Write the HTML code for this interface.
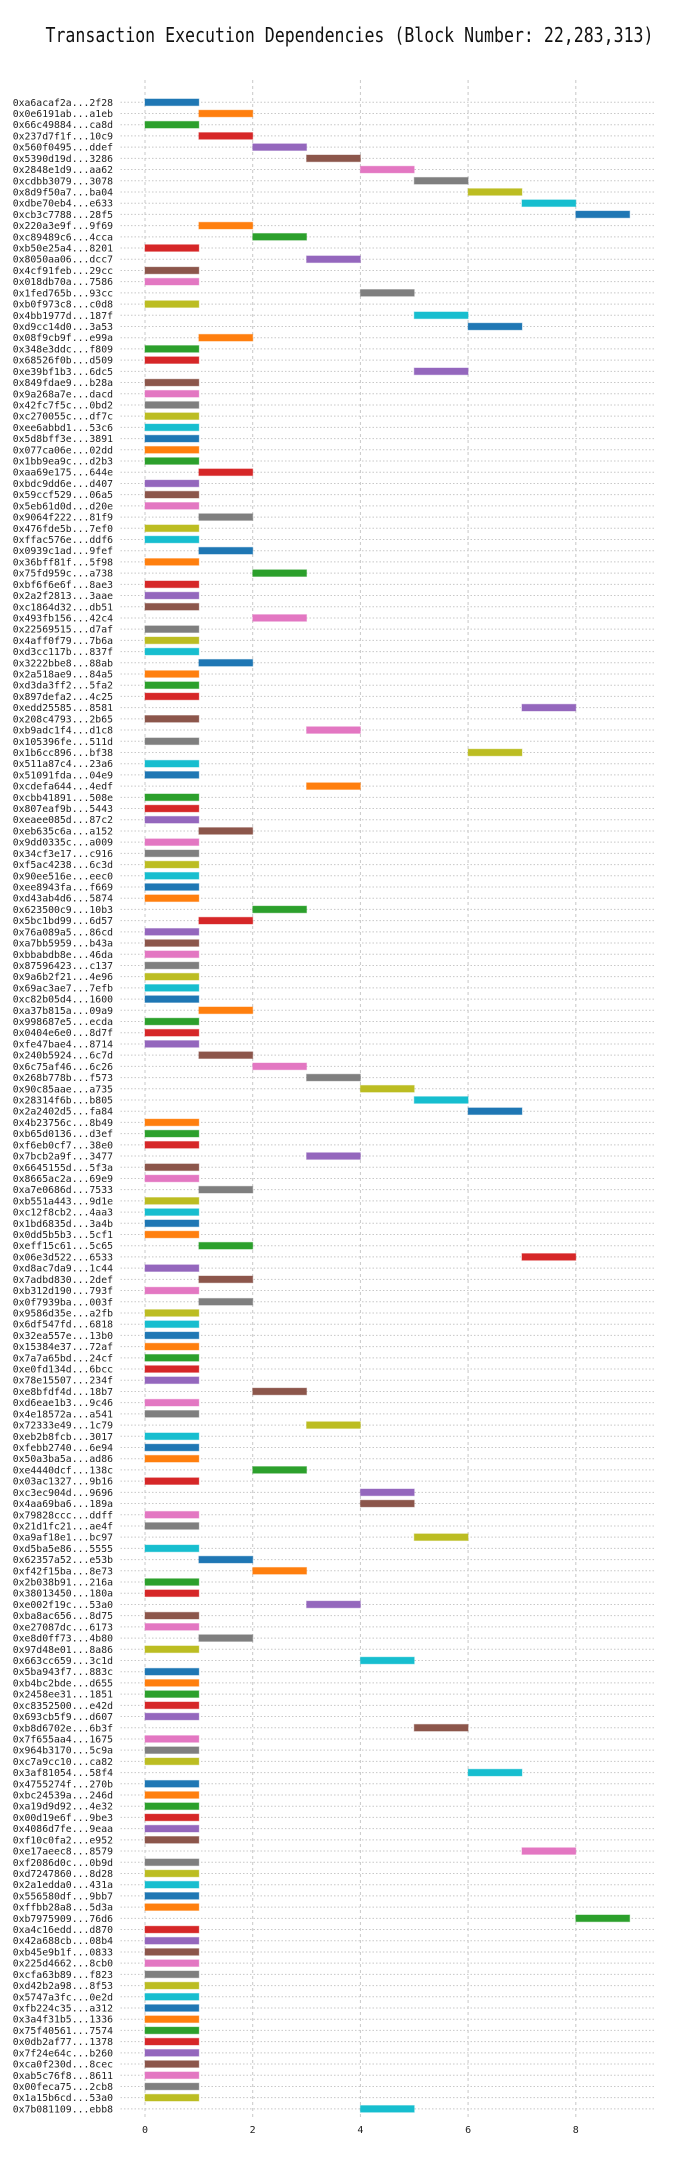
<!DOCTYPE html>
<html><head><meta charset="utf-8"><style>
html,body{margin:0;padding:0;background:#fff;}
svg{display:block;}
</style></head><body>
<svg id="chart" width="700" height="2160" xmlns="http://www.w3.org/2000/svg">
<rect width="700" height="2160" fill="#fff"/>
<text x="349.5" y="42" text-anchor="middle" font-family="'DejaVu Sans Mono','Liberation Mono',monospace" font-size="20" textLength="608" lengthAdjust="spacingAndGlyphs" fill="#111">Transaction Execution Dependencies (Block Number: 22,283,313)</text>
<g id="grid"></g>
<g id="bars"></g>
<g id="ylabels"></g>
<g id="xticks"></g>
</svg>
<script>
const txLabels = ["0xa6acaf2a...2f28","0x0e6191ab...a1eb","0x66c49884...ca8d","0x237d7f1f...10c9","0x560f0495...ddef","0x5390d19d...3286","0x2848e1d9...aa62","0xcdbb3079...3078","0x8d9f50a7...ba04","0xdbe70eb4...e633","0xcb3c7788...28f5","0x220a3e9f...9f69","0xc89489c6...4cca","0xb50e25a4...8201","0x8050aa06...dcc7","0x4cf91feb...29cc","0x018db70a...7586","0x1fed765b...93cc",
"0xb0f973c8...c0d8","0x4bb1977d...187f","0xd9cc14d0...3a53","0x08f9cb9f...e99a","0x348e3ddc...f809","0x68526f0b...d509","0xe39bf1b3...6dc5","0x849fdae9...b28a","0x9a268a7e...dacd","0x42fc7f5c...0bd2","0xc270055c...df7c","0xee6abbd1...53c6","0x5d8bff3e...3891","0x077ca06e...02dd","0x1bb9ea9c...d2b3","0xaa69e175...644e","0xbdc9dd6e...d407","0x59ccf529...06a5",
"0x5eb61d0d...d20e","0x9064f222...81f9","0x476fde5b...7ef0","0xffac576e...ddf6","0x0939c1ad...9fef","0x36bff81f...5f98","0x75fd959c...a738","0xbf6f6e6f...8ae3","0x2a2f2813...3aae","0xc1864d32...db51","0x493fb156...42c4","0x22569515...d7af","0x4aff0f79...7b6a","0xd3cc117b...837f","0x3222bbe8...88ab","0x2a518ae9...84a5","0xd3da3ff2...5fa2","0x897defa2...4c25",
"0xedd25585...8581","0x208c4793...2b65","0xb9adc1f4...d1c8","0x105396fe...511d","0x1b6cc896...bf38","0x511a87c4...23a6","0x51091fda...04e9","0xcdefa644...4edf","0xcbb41891...508e","0x807eaf9b...5443","0xeaee085d...87c2","0xeb635c6a...a152","0x9dd0335c...a009","0x34cf3e17...c916","0xf5ac4238...6c3d","0x90ee516e...eec0","0xee8943fa...f669","0xd43ab4d6...5874",
"0x623500c9...10b3","0x5bc1bd99...6d57","0x76a089a5...86cd","0xa7bb5959...b43a","0xbbabdb8e...46da","0x87596423...c137","0x9a6b2f21...4e96","0x69ac3ae7...7efb","0xc82b05d4...1600","0xa37b815a...09a9","0x998687e5...ecda","0x0404e6e0...8d7f","0xfe47bae4...8714","0x240b5924...6c7d","0x6c75af46...6c26","0x268b778b...f573","0x90c85aae...a735","0x28314f6b...b805",
"0x2a2402d5...fa84","0x4b23756c...8b49","0xb65d0136...d3ef","0xf6eb0cf7...38e0","0x7bcb2a9f...3477","0x6645155d...5f3a","0x8665ac2a...69e9","0xa7e0686d...7533","0xb551a443...9d1e","0xc12f8cb2...4aa3","0x1bd6835d...3a4b","0x0dd5b5b3...5cf1","0xeff15c61...5c65","0x06e3d522...6533","0xd8ac7da9...1c44","0x7adbd830...2def","0xb312d190...793f","0x0f7939ba...003f",
"0x9586d35e...a2fb","0x6df547fd...6818","0x32ea557e...13b0","0x15384e37...72af","0x7a7a65bd...24cf","0xe0fd134d...6bcc","0x78e15507...234f","0xe8bfdf4d...18b7","0xd6eae1b3...9c46","0x4e18572a...a541","0x72333e49...1c79","0xeb2b8fcb...3017","0xfebb2740...6e94","0x50a3ba5a...ad86","0xe4440dcf...138c","0x03ac1327...9b16","0xc3ec904d...9696",
"0x4aa69ba6...189a","0x79828ccc...ddff","0x21d1fc21...ae4f","0xa9af18e1...bc97","0xd5ba5e86...5555","0x62357a52...e53b","0xf42f15ba...8e73","0x2b038b91...216a","0x38013450...180a","0xe002f19c...53a0","0xba8ac656...8d75","0xe27087dc...6173","0xe8d0ff73...4b80","0x97d48e01...8a86","0x663cc659...3c1d","0x5ba943f7...883c","0xb4bc2bde...d655","0x2458ee31...1851",
"0xc8352500...e42d","0x693cb5f9...d607","0xb8d6702e...6b3f","0x7f655aa4...1675","0x964b3170...5c9a","0xc7a9cc10...ca82","0x3af81054...58f4","0x4755274f...270b","0xbc24539a...246d","0xa19d9d92...4e32","0x00d19e6f...9be3","0x4086d7fe...9eaa","0xf10c0fa2...e952","0xe17aeec8...8579","0xf2086d0c...0b9d","0xd7247860...8d28","0x2a1edda0...431a","0x556580df...9bb7",
"0xffbb28a8...5d3a","0xb7975909...76d6","0xa4c16edd...d870","0x42a688cb...08b4","0xb45e9b1f...0833","0x225d4662...8cb0","0xcfa63b89...f823","0xd42b2a98...8f53","0x5747a3fc...0e2d","0xfb224c35...a312","0x3a4f31b5...1336","0x75f40561...7574","0x0db2af77...1378","0x7f24e64c...b260","0xca0f230d...8cec","0xab5c76f8...8611","0x00feca75...2cb8","0x1a15b6cd...53a0","0x7b081109...ebb8"];
const startTimes = [0,1,0,1,2,3,4,5,6,7,8,1,2,0,3,0,0,4,
0,5,6,1,0,0,5,0,0,0,0,0,0,0,0,1,0,0,
0,1,0,0,1,0,2,0,0,0,2,0,0,0,1,0,0,0,
7,0,3,0,6,0,0,3,0,0,0,1,0,0,0,0,0,0,
2,1,0,0,0,0,0,0,0,1,0,0,0,1,2,3,4,5,
6,0,0,0,3,0,0,1,0,0,0,0,1,7,0,1,0,1,
0,0,0,0,0,0,0,2,0,0,3,0,0,0,2,0,4,
4,0,0,5,0,1,2,0,0,3,0,0,1,0,4,0,0,0,
0,0,5,0,0,0,6,0,0,0,0,0,0,7,0,0,0,0,
0,8,0,0,0,0,0,0,0,0,0,0,0,0,0,0,0,0,4];
const durations = txLabels.map(() => 1);
const xTicks = [0,2,4,6,8];
const palette = ["#1f77b4","#ff7f0e","#2ca02c","#d62728","#9467bd","#8c564b","#e377c2","#7f7f7f","#bcbd22","#17becf"];

const NS = "http://www.w3.org/2000/svg";
const X0 = 145, UNIT = 53.85, AX_L = 120.5, AX_R = 655;
const Y0 = 102.3, ROW = 11.21, AX_T = 80, AX_B = 2117;
const BAR_H = 6.7;
const xScale = v => X0 + v * UNIT;
const yScale = i => Y0 + i * ROW;
const mono = "'DejaVu Sans Mono','Liberation Mono',monospace";

function mk(tag, attrs, parent){
  const el = document.createElementNS(NS, tag);
  for (const k in attrs) el.setAttribute(k, attrs[k]);
  parent.appendChild(el);
  return el;
}
const grid = document.getElementById('grid');
const bars = document.getElementById('bars');
const ylab = document.getElementById('ylabels');
const xt = document.getElementById('xticks');

txLabels.forEach((lab, i) => {
  const y = yScale(i);
  const gl = mk('line', {x1: AX_L, x2: AX_R, y1: y, y2: y, stroke: '#c8c8c8', 'stroke-width': 1, 'stroke-dasharray': '1.5,2'}, grid);
  
  
  const t = mk('text', {x: 113, y: y + 3.5, 'text-anchor': 'end', 'font-family': mono, 'font-size': 9.8, fill: '#222'}, ylab);
  t.textContent = lab;
  
  
  const r = mk('rect', {x: xScale(startTimes[i]), y: y - BAR_H/2, width: durations[i] * UNIT, height: BAR_H, fill: palette[i % 10], stroke: palette[i % 10], 'stroke-opacity': 0.4, 'stroke-width': 1}, bars);
  
  
});
xTicks.forEach(v => {
  const x = xScale(v);
  const l = mk('line', {x1: x, x2: x, y1: AX_T, y2: AX_B, stroke: '#c8c8c8', 'stroke-width': 1, 'stroke-dasharray': '3,3'}, grid);
  
  
  const t = mk('text', {x: x, y: 2133, 'text-anchor': 'middle', 'font-family': mono, 'font-size': 10, fill: '#222'}, xt);
  t.textContent = String(v);
  
  
});
</script>
</body></html>
